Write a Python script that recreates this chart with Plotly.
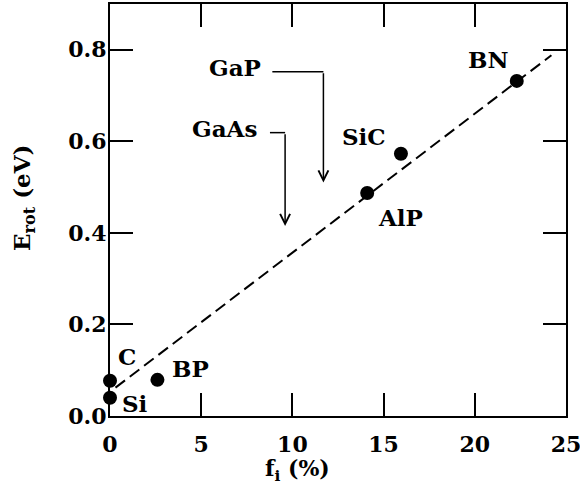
import plotly.graph_objects as go

# data
materials = ["C", "Si", "BP", "AlP", "SiC", "BN"]
fi_pct = [0.0, 0.0, 2.6, 14.1, 15.95, 22.3]
erot_ev = [0.077, 0.040, 0.079, 0.487, 0.573, 0.732]

# label positions for the material names
label_x = [0.93, 1.37, 4.4, 15.9, 13.9, 20.7]
label_y = [0.131, 0.028, 0.103, 0.433, 0.61, 0.778]

# fitted dashed line
fit_x = [0.3, 24.2]
fit_y = [0.062, 0.788]

# arrows for GaP and GaAs
arrow_names = ["GaP", "GaAs"]
arrow_tip_x = [11.7, 9.6]
arrow_tip_y = [0.51, 0.415]
arrow_level_y = [0.752, 0.619]
arrow_start_x = [8.9, 8.77]
arrow_label_x = [6.85, 6.3]

x_ticks = [0, 5, 10, 15, 20, 25]
y_ticks = [0.0, 0.2, 0.4, 0.6, 0.8]

FONT = "DejaVu Serif"

fig = go.Figure()

fig.add_trace(go.Scatter(
    x=fit_x, y=fit_y, mode="lines",
    line=dict(color="black", width=2, dash="12px,6px"),
    showlegend=False, hoverinfo="skip"))

fig.add_trace(go.Scatter(
    x=fi_pct, y=erot_ev, mode="markers",
    marker=dict(color="black", size=14),
    showlegend=False, cliponaxis=False))

annotations = []
for name, lx, ly in zip(materials, label_x, label_y):
    annotations.append(dict(x=lx, y=ly, text="<b>%s</b>" % name, showarrow=False,
                            xref="x", yref="y", xanchor="center", yanchor="middle",
                            font=dict(family=FONT, size=23, color="black")))

shapes = []
for name, tx, ty, ly, sx, lx in zip(arrow_names, arrow_tip_x, arrow_tip_y,
                                     arrow_level_y, arrow_start_x, arrow_label_x):
    shapes.append(dict(type="line", xref="x", yref="y", x0=sx, y0=ly, x1=tx, y1=ly,
                       line=dict(color="black", width=1.5)))
    annotations.append(dict(x=tx, y=ty, ax=tx, ay=ly, xref="x", yref="y",
                            axref="x", ayref="y", showarrow=True, arrowhead=5,
                            arrowsize=1.3, arrowwidth=1.5, arrowcolor="black", text=""))
    annotations.append(dict(x=lx, y=ly + 0.01, text="<b>%s</b>" % name, showarrow=False,
                            xref="x", yref="y", xanchor="center", yanchor="middle",
                            font=dict(family=FONT, size=23, color="black")))

# axis titles (pixel positions, converted below)
annotations.append(dict(x=297, y=470, xref="paper", yref="paper", showarrow=False,
                        xanchor="center", yanchor="middle",
                        text="<b>f<sub>i</sub> (%)</b>",
                        font=dict(family=FONT, size=22, color="black")))
annotations.append(dict(x=23, y=198, xref="paper", yref="paper", showarrow=False,
                        xanchor="center", yanchor="middle",
                        textangle=-90, text="<b>E<sub>rot</sub> (eV)</b>",
                        font=dict(family=FONT, size=23, color="black")))

L, R, T, B = 110, 14, 4, 85
W, H = 580, 501
pw, ph = W - L - R, H - T - B
for a in annotations[-2:]:
    a["x"] = (a["x"] - L) / pw
    a["y"] = (H - B - a["y"]) / ph

fig.update_layout(
    width=W, height=H,
    margin=dict(l=L, r=R, t=T, b=B, autoexpand=False),
    paper_bgcolor="white", plot_bgcolor="white",
    font=dict(family=FONT, size=22, color="black"),
    annotations=annotations, shapes=shapes,
    xaxis=dict(range=[0, 25], tickvals=x_ticks,
               ticks="inside", ticklen=23, tickwidth=2, tickcolor="black",
               showline=True, linewidth=2, linecolor="black", mirror="ticks",
               showgrid=False, zeroline=False, ticklabelstandoff=8,
               ticklabeloverflow="allow",
               tickfont=dict(family=FONT, size=22, weight="bold")),
    yaxis=dict(range=[0, 0.9], tickvals=y_ticks, tickformat=".1f",
               ticks="inside", ticklen=23, tickwidth=2, tickcolor="black",
               showline=True, linewidth=2, linecolor="black", mirror="ticks",
               showgrid=False, zeroline=False, ticklabelstandoff=-3,
               ticklabeloverflow="allow",
               tickfont=dict(family=FONT, size=22, weight="bold")),
)

fig.write_html("out.html", config={"displayModeBar": False},
               post_script="document.body.style.margin='0';")
